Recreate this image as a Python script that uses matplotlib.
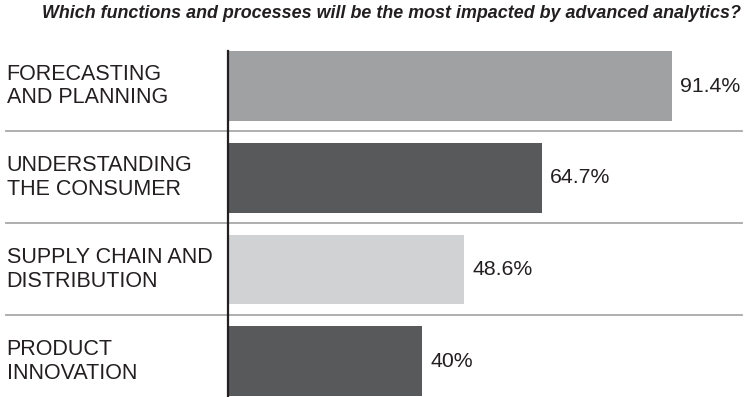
import matplotlib.pyplot as plt

plt.rcParams['font.family'] = ['Liberation Sans', 'DejaVu Sans']

categories = ["FORECASTING\nAND PLANNING", "UNDERSTANDING\nTHE CONSUMER",
              "SUPPLY CHAIN AND\nDISTRIBUTION", "PRODUCT\nINNOVATION"]
values = [91.4, 64.7, 48.6, 40]
labels = ["91.4%", "64.7%", "48.6%", "40%"]
colors = ["#a0a1a3", "#58595b", "#d1d2d4", "#58595b"]

W, H = 745, 397
fig = plt.figure(figsize=(W / 100, H / 100), dpi=100)
# plot area starts at the dark baseline; 100 % spans ~486 px
ax = fig.add_axes([228 / W, 0, 485.8 / W, 1 - 51 / H])

rows = range(len(values))
ax.barh(rows, values, height=0.763, color=colors, zorder=2)
ax.set_xlim(0, 100)
ax.set_ylim(3.39, -0.382)

for i, (v, lab) in enumerate(zip(values, labels)):
    ax.annotate(lab, (v, i), xytext=(5.8, 0), textcoords="offset points",
                ha="left", va="center", fontsize=15.3, color="#231f20")
    ax.text(-228 / 485.8 * 100 + 1.35, i, categories[i], ha="left",
            va="center", fontsize=15.5, color="#231f20", linespacing=1.17,
            clip_on=False)

# thin rules between the categories
for y in [0.49, 1.49, 2.5]:
    ax.axhline(y, xmin=-0.457, xmax=1.058, color="#a7a8aa", lw=1.3,
               clip_on=False, zorder=1)

for s in ["top", "right", "bottom"]:
    ax.spines[s].set_visible(False)
ax.spines["left"].set_color("#231f20")
ax.spines["left"].set_linewidth(1.6)
ax.spines["left"].set_zorder(3)
ax.set_xticks([])
ax.set_yticks([])

fig.text(741 / W, 1 - 14 / H,
         "Which functions and processes will be the most impacted by advanced analytics?",
         ha="right", va="center", fontsize=12.9, fontweight="bold",
         fontstyle="italic", color="#231f20")

fig.savefig("out.png", dpi=100)
